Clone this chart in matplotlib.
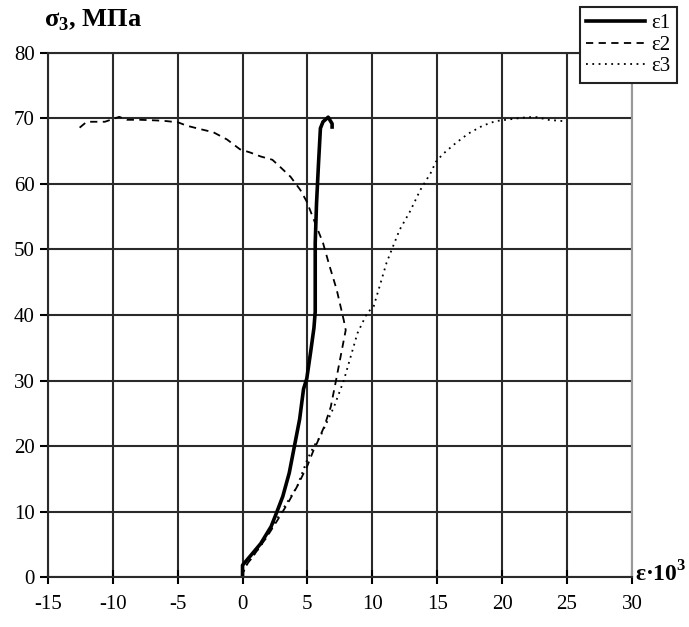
import numpy as np
import matplotlib
matplotlib.use('Agg')
import matplotlib.pyplot as plt

# strain (x 10^3) vs stress sigma_3 (MPa)
eps1_x = [0.0, 0.0, 0.64, 1.4, 2.2, 2.6, 3.1, 3.6, 4.0, 4.4, 4.7, 4.95, 5.25, 5.5, 5.6, 5.6,
          5.6, 5.7, 5.85, 6.0, 6.2, 6.6, 6.9, 6.9]
eps1_y = [0.0, 1.8, 3.3, 5.1, 7.7, 9.7, 12.3, 15.9, 20.0, 24.1, 28.7, 30.3, 34.4, 38.0, 40.5, 45.6,
          51.0, 57.0, 63.0, 68.5, 69.5, 70.2, 69.2, 68.7]

eps2_x = [-12.55, -12.0, -10.6, -9.5, -8.9, -7.9, -6.6, -5.85, -4.95, -4.3, -3.3, -2.25, -1.2,
          -0.2, 0.6, 1.4, 2.3, 2.9, 3.7, 4.45, 4.95, 5.6, 6.2, 6.7, 7.25, 7.8, 7.95,
          7.55, 7.2, 6.8, 6.3, 5.75, 5.5, 5.0, 4.2, 3.5, 2.7, 1.9, 1.15, 0.4, 0.0]
eps2_y = [68.6, 69.5, 69.5, 70.25, 69.8, 69.8, 69.7, 69.6, 69.4, 68.9, 68.4, 67.9, 66.8,
          65.3, 64.8, 64.2, 63.7, 62.6, 61.1, 59.1, 57.3, 54.0, 51.0, 47.5, 43.9, 39.2, 37.7,
          33.6, 30.0, 26.0, 23.0, 20.5, 19.5, 17.0, 13.8, 11.3, 8.7, 6.2, 4.1, 2.1, 0.5]

eps3_x = [0.0, 1.7, 2.9, 4.2, 5.0, 5.5, 6.0, 7.05, 7.8, 8.85, 9.6, 10.1, 11.1, 12.1, 12.9,
          13.7, 14.5, 14.9, 15.45, 16.4, 17.4, 18.5, 19.5, 20.3, 21.9, 22.7, 23.5, 24.7]
eps3_y = [1.0, 5.6, 9.7, 13.8, 18.0, 20.0, 21.5, 26.0, 30.0, 37.2, 40.3, 41.3, 48.0, 53.0, 55.8,
          59.1, 61.7, 63.4, 64.6, 66.2, 67.7, 68.9, 69.6, 69.8, 70.2, 70.2, 69.8, 69.6]

x_ticks = [-15, -10, -5, 0, 5, 10, 15, 20, 25, 30]
y_ticks = [0, 10, 20, 30, 40, 50, 60, 70, 80]

plt.rcParams['font.family'] = ['Liberation Serif', 'DejaVu Serif']
plt.rcParams['axes.unicode_minus'] = False

fig = plt.figure(figsize=(6.89, 6.27), dpi=100)
ax = fig.add_axes([0.0694, 0.0797, 0.8478, 0.8358])

ax.plot(eps1_x, eps1_y, color='black', lw=2.6, label='ε1')
ax.plot(eps2_x, eps2_y, color='black', lw=1.3, ls=(0, (4, 3)), label='ε2')
ax.plot(eps3_x, eps3_y, color='black', lw=1.3, ls=(0, (1, 2.5)), label='ε3')

ax.set_xlim(-15, 30)
ax.set_ylim(0, 80)
ax.set_xticks(x_ticks)
ax.set_yticks(y_ticks)
ax.grid(True, color='#2a2a2a', lw=1.5)
ax.set_axisbelow(True)
ax.tick_params(axis='x', direction='inout', length=10, width=1.5, labelsize=15, pad=8)
ax.tick_params(axis='y', direction='out', length=6, width=1.5, labelsize=15)

for side in ['left', 'bottom', 'top']:
    ax.spines[side].set_color('#2a2a2a')
    ax.spines[side].set_linewidth(1.5)
ax.spines['right'].set_color('#999999')
ax.spines['right'].set_linewidth(1.5)

fig.text(0.064, 0.968, r'σ$_\mathregular{3}$, МПа', fontsize=19, fontweight='bold',
         va='center', ha='left')
fig.text(0.922, 0.085, r'ε·10$^\mathregular{3}$', fontsize=17, fontweight='bold',
         va='center', ha='left')

leg = fig.legend(loc='upper right', bbox_to_anchor=(0.988, 0.995), fontsize=15,
                 frameon=True, fancybox=False, edgecolor='#222222', framealpha=1,
                 handlelength=2.8, handletextpad=0.3, borderpad=0.3, labelspacing=0.1,
                 borderaxespad=0.2)
leg.get_frame().set_linewidth(1.5)
leg.set_zorder(5)

fig.savefig('out.png', dpi=100)
